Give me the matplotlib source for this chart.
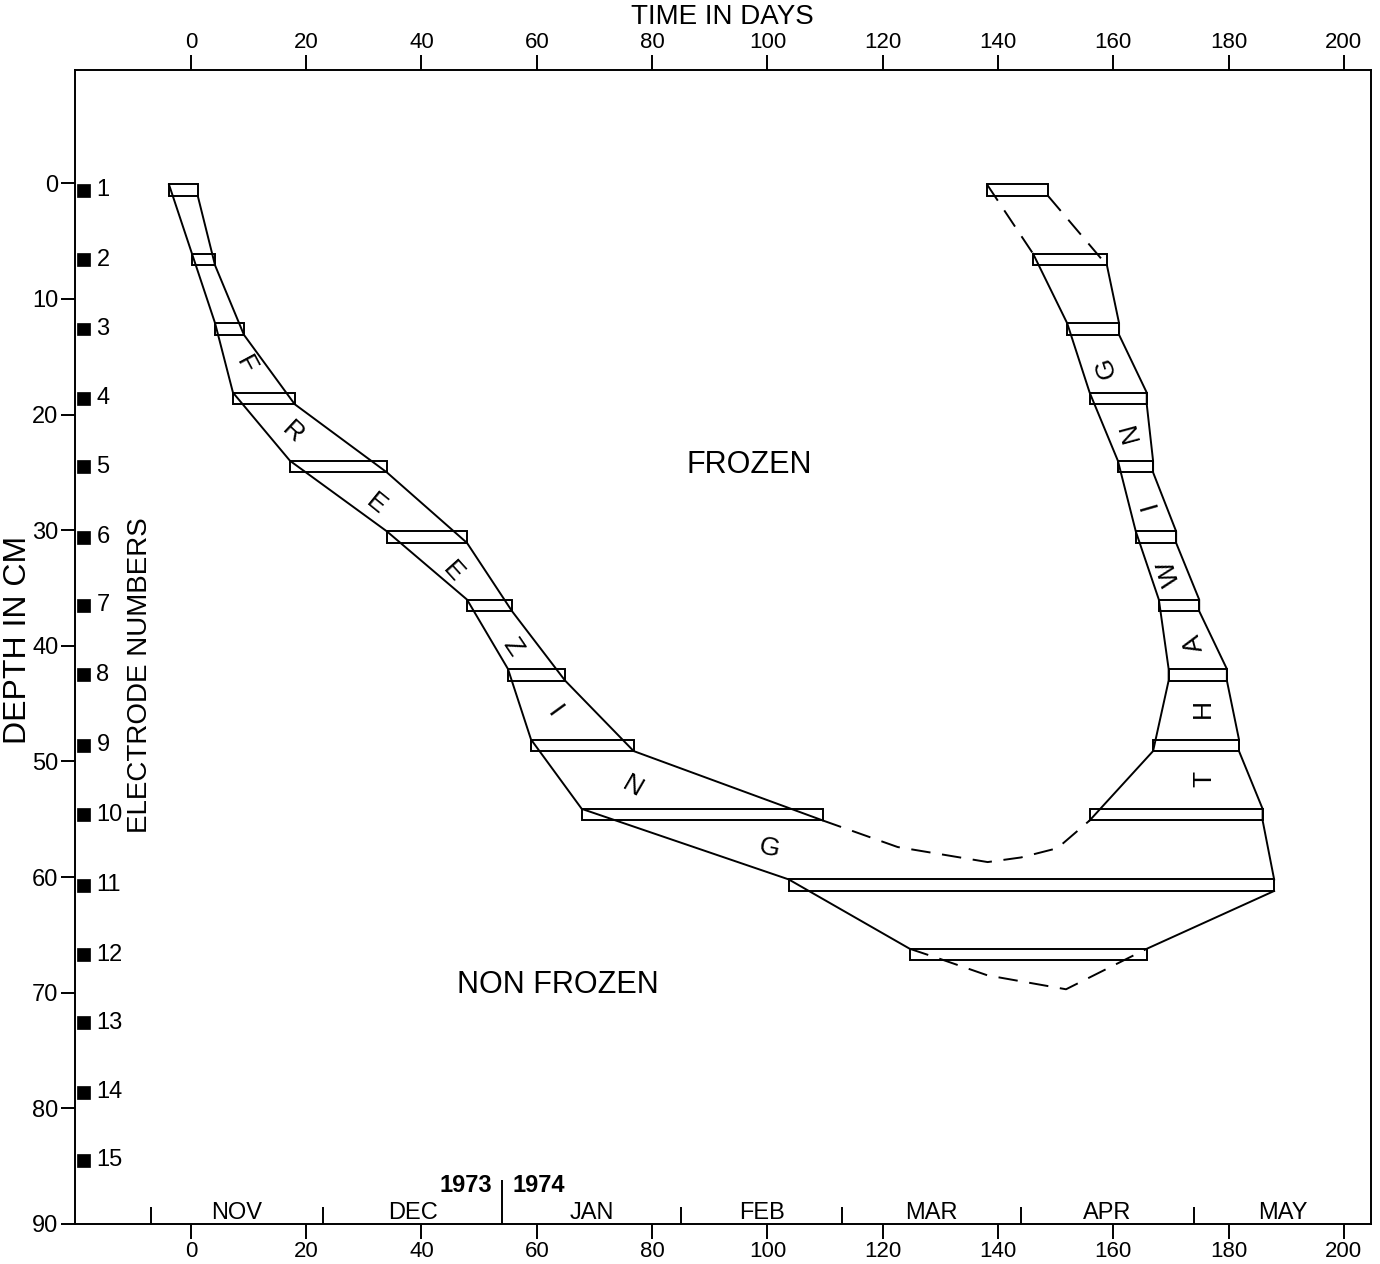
import matplotlib
matplotlib.use("Agg")
import matplotlib.pyplot as plt
from matplotlib.patches import Rectangle
import matplotlib.transforms as mtransforms
from matplotlib import font_manager

plt.rcParams['font.family'] = ['Liberation Sans', 'DejaVu Sans']
_names = {f.name for f in font_manager.fontManager.ttflist}
NARROW = ['Liberation Sans Narrow', 'Liberation Sans'] if 'Liberation Sans Narrow' in _names \
    else ['Liberation Sans', 'DejaVu Sans']

# ---------------- data ----------------
electrode_no = list(range(1, 16))
electrode_depth = [0.6, 6.6, 12.6, 18.6, 24.5, 30.6, 36.5, 42.5, 48.6, 54.6,
                   60.7, 66.7, 72.6, 78.6, 84.5]

# freezing boxes (electrodes 1..12): start / end day
freeze_start = [-3.8, 0.2, 4.2, 7.3, 17.2, 34.0, 47.9, 55.0, 59.0, 67.8, 103.7, 124.7]
freeze_end = [1.2, 4.2, 9.2, 18.0, 34.0, 47.9, 55.7, 64.9, 76.8, 109.6, 187.9, 165.8]

# thawing boxes (electrodes 1..10)
thaw_start = [138.1, 146.1, 152.0, 155.9, 160.8, 163.9, 167.9, 169.6, 166.9, 155.9]
thaw_end = [148.7, 158.9, 161.0, 165.8, 166.9, 170.9, 174.9, 179.7, 181.8, 185.9]

# dashed (estimated) fronts, interior points
mid_dash_day = [122.6, 138.2, 144.0, 150.3]
mid_dash_depth = [57.4, 58.7, 58.3, 57.5]
low_dash_day = [130.1, 138.2, 151.8]
low_dash_depth = [67.1, 68.5, 69.7]

# calendar
month_names = ['NOV', 'DEC', 'JAN', 'FEB', 'MAR', 'APR', 'MAY']
month_start = [-7, 23, 54, 85, 113, 144, 174, 205]
year_break = 54

day_ticks = list(range(0, 201, 20))
depth_ticks = list(range(0, 91, 10))

freeze_letters = list("FREEZING")
freeze_let_day = [9.5, 17.6, 32.1, 45.4, 55.8, 63.0, 76.6, 100.3]
freeze_let_depth = [15.7, 21.5, 27.7, 33.6, 40.1, 45.7, 52.2, 57.5]
freeze_let_rot = [-62, -43, -39, -48, -56, -54, -30, -12]

thaw_letters = list("THAWING")
thaw_let_day = [175.8, 175.5, 174.0, 169.7, 166.2, 162.9, 158.7]
thaw_let_depth = [51.5, 45.4, 39.8, 33.7, 27.8, 21.5, 15.9]
thaw_let_rot = [90, 90, 105, 107, 106, 105, 108]

# ---------------- figure ----------------
W, H = 1380, 1264
fig = plt.figure(figsize=(W / 100, H / 100), dpi=100)
ax = fig.add_axes([75 / W, (H - 1224) / H, (1371 - 75) / W, (1224 - 70) / H])
ax.set_xlim(-20.1, 204.7)
ax.set_ylim(90, -9.8)

LW = 1.4
for s in ax.spines.values():
    s.set_linewidth(LW)

half = 0.5
dash = (0, (10, 6))

# boxes
for i, (s, e) in enumerate(zip(freeze_start, freeze_end)):
    d = electrode_depth[i]
    ax.add_patch(Rectangle((s, d - half), e - s, 2 * half, fill=False,
                           edgecolor='black', lw=LW))
for i, (s, e) in enumerate(zip(thaw_start, thaw_end)):
    d = electrode_depth[i]
    ax.add_patch(Rectangle((s, d - half), e - s, 2 * half, fill=False,
                           edgecolor='black', lw=LW))

# freezing fronts
fl_x = freeze_start[:12]
fl_y = [electrode_depth[i] - half for i in range(12)]
ax.plot(fl_x, fl_y, color='black', lw=LW)
fr_x = freeze_end[:10]
fr_y = [electrode_depth[i] + half for i in range(10)]
ax.plot(fr_x, fr_y, color='black', lw=LW)

# dashed middle front: freeze E10 bottom-right -> thaw E10 bottom-left
ax.plot([freeze_end[9]] + mid_dash_day + [thaw_start[9]],
        [electrode_depth[9] + half] + mid_dash_depth + [electrode_depth[9] + half],
        color='black', lw=LW, ls=dash)
# dashed lower front under electrode 12
ax.plot([freeze_start[11]] + low_dash_day + [freeze_end[11]],
        [electrode_depth[11] - half] + low_dash_depth + [electrode_depth[11] - half],
        color='black', lw=LW, ls=dash)
# solid E12 top-right -> E11 bottom-right
ax.plot([freeze_end[11], freeze_end[10]],
        [electrode_depth[11] - half, electrode_depth[10] + half], color='black', lw=LW)

# thawing left front
ax.plot([thaw_start[0], thaw_start[1]],
        [electrode_depth[0] - half, electrode_depth[1] - half], color='black', lw=LW, ls=dash)
tl_x = thaw_start[1:8] + [thaw_start[7], thaw_start[8], thaw_start[9]]
tl_y = [electrode_depth[i] - half for i in range(1, 8)] + \
       [electrode_depth[7] + half, electrode_depth[8] + half, electrode_depth[9] + half]
ax.plot(tl_x, tl_y, color='black', lw=LW)

# thawing right front
ax.plot([thaw_end[0], thaw_end[1]],
        [electrode_depth[0] + half, electrode_depth[1] + half], color='black', lw=LW, ls=dash)
tr_x, tr_y = [thaw_end[1]], [electrode_depth[1] + half]
for i in range(2, 10):
    tr_x += [thaw_end[i], thaw_end[i]]
    tr_y += [electrode_depth[i] - half, electrode_depth[i] + half]
tr_x.append(freeze_end[10])
tr_y.append(electrode_depth[10] - half)
ax.plot(tr_x, tr_y, color='black', lw=LW)

# letters
for ch, x, y, r in zip(freeze_letters, freeze_let_day, freeze_let_depth, freeze_let_rot):
    ax.text(x, y, ch, rotation=r, ha='center', va='center', fontsize=19,
            rotation_mode='anchor')
for ch, x, y, r in zip(thaw_letters, thaw_let_day, thaw_let_depth, thaw_let_rot):
    ax.text(x, y, ch, rotation=r, ha='center', va='center', fontsize=19,
            rotation_mode='anchor')

ax.text(96.8, 24.4, 'FROZEN', ha='center', va='center', fontsize=22)
ax.text(63.7, 69.3, 'NON FROZEN', ha='center', va='center', fontsize=22)

# ticks
ax.set_xticks(day_ticks)
ax.set_yticks(depth_ticks)
ax.tick_params(axis='x', which='both', top=True, labeltop=True, bottom=True,
               labelbottom=True, direction='out', length=11, width=LW,
               labelsize=16, pad=1)
ax.tick_params(axis='y', direction='out', length=10, width=LW, labelsize=17, pad=2)
for lab in ax.get_yticklabels():
    lab.set_fontfamily(NARROW)
for t in ax.xaxis.get_major_ticks():
    t.label1.set_fontfamily(NARROW)
    t.label2.set_fontfamily(NARROW)

# months
for m in month_start[:-1]:
    if m == year_break:
        ax.vlines(m, 86.2, 90, color='black', lw=LW)
    else:
        ax.vlines(m, 88.5, 90, color='black', lw=LW)
for name, a, b in zip(month_names, month_start[:-1], month_start[1:]):
    ax.text((a + b) / 2, 89.05, name, ha='center', va='center', fontsize=17,
            family=NARROW)
ax.text(year_break - 1.8, 86.7, '1973', ha='right', va='center', fontsize=17,
        fontweight='bold', family=NARROW)
ax.text(year_break + 1.8, 86.7, '1974', ha='left', va='center', fontsize=17,
        fontweight='bold', family=NARROW)

# electrodes
bl = mtransforms.blended_transform_factory(ax.transAxes, ax.transData)
for n, d in zip(electrode_no, electrode_depth):
    ax.add_patch(Rectangle((0.0015, d - 0.55), 0.0100, 1.1, transform=bl,
                           facecolor='black', edgecolor='black', lw=0.5,
                           clip_on=False))
    ax.text(0.0165, d, str(n), transform=bl, ha='left', va='center', fontsize=17,
            family=NARROW)

# axis titles
fig.text(722 / W, 1 - 17 / H, 'TIME IN DAYS', ha='center', va='center', fontsize=20)
fig.text(18 / W, 1 - 640 / H, 'DEPTH IN CM', rotation=90, ha='center',
         va='center', fontsize=23)
fig.text(140 / W, 1 - 675 / H, 'ELECTRODE NUMBERS', rotation=90, ha='center',
         va='center', fontsize=20)

fig.savefig('out.png', dpi=100)
